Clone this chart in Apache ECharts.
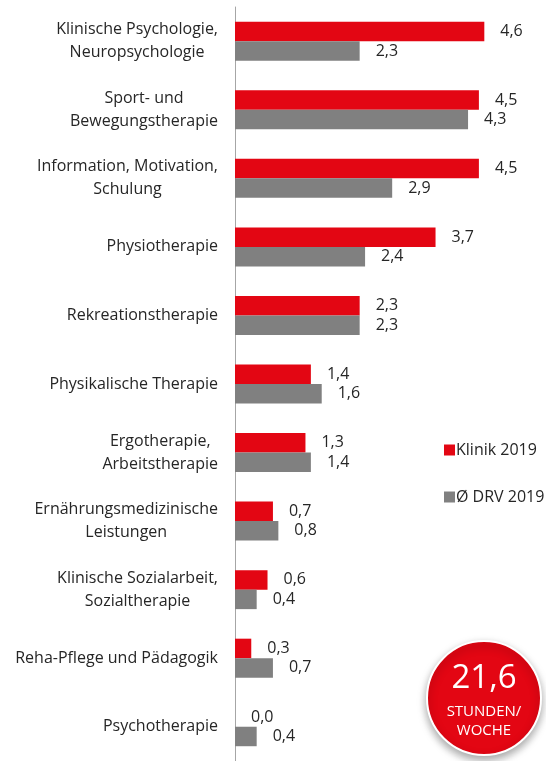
<!DOCTYPE html>
<html>
<head>
<meta charset="utf-8">
<script src="https://cdn.jsdelivr.net/npm/echarts@6/dist/echarts.min.js"></script>
<style>
  html, body { margin: 0; padding: 0; background: #fff; }
  #main { width: 546px; height: 761px; }
</style>
</head>
<body>
<div id="main"></div>
<script>
// Kategorien (von oben nach unten)
var categories = [
  'Klinische Psychologie,\nNeuropsychologie',
  'Sport- und\nBewegungstherapie',
  'Information, Motivation,\nSchulung',
  'Physiotherapie',
  'Rekreationstherapie',
  'Physikalische Therapie',
  'Ergotherapie,\nArbeitstherapie',
  'Ernährungsmedizinische\nLeistungen',
  'Klinische Sozialarbeit,\nSozialtherapie',
  'Reha-Pflege und Pädagogik',
  'Psychotherapie'
]
var klinik2019 = [4.6, 4.5, 4.5, 3.7, 2.3, 1.4, 1.3, 0.7, 0.6, 0.3, 0.0]
var drv2019 = [2.3, 4.3, 2.9, 2.4, 2.3, 1.6, 1.4, 0.8, 0.4, 0.7, 0.4]
var seriesNames = ['Klinik 2019', 'Ø DRV 2019']
var totalHours = '21,6'

var FONT = '"Open Sans"'
var dom = document.getElementById('main')
var myChart = echarts.init(dom)

function fmt (p) {
  return p.value.toFixed(1).replace('.', ',')
}

var option = {
  animation: false,
  textStyle: { fontFamily: FONT },
  grid: { left: 235, right: 40, top: 7, bottom: 0 },
  legend: {
    orient: 'vertical',
    left: 439,
    top: 437,
    itemWidth: 11,
    itemHeight: 11,
    itemGap: 31,
    icon: 'rect',
    textStyle: { fontFamily: FONT, fontSize: 16, color: '#262626', padding: [0, 0, 0, -4] },
    data: seriesNames
  },
  xAxis: {
    type: 'value',
    min: 0,
    max: 5,
    show: false
  },
  yAxis: {
    type: 'category',
    inverse: true,
    data: categories,
    axisLine: { lineStyle: { color: '#a6a6a6', width: 1 } },
    axisTick: { length: 5, lineStyle: { color: '#a6a6a6' } },
    axisLabel: {
      margin: 17,
      color: '#262626',
      fontSize: 16,
      lineHeight: 23,
      formatter: function (v) {
        return v.split('\n').map(function (l) { return '{c|' + l + '}' }).join('\n')
      },
      rich: {
        c: { align: 'center', fontFamily: FONT, fontSize: 16, lineHeight: 23, color: '#262626' }
      }
    },
    splitLine: { show: false }
  },
  series: [
    {
      name: seriesNames[0],
      type: 'bar',
      data: klinik2019,
      barWidth: 19.5,
      barGap: '0%',
      itemStyle: { color: '#e30613' },
      label: { show: true, position: 'right', distance: 16, fontSize: 16, color: '#262626', formatter: fmt }
    },
    {
      name: seriesNames[1],
      type: 'bar',
      data: drv2019,
      barWidth: 19.5,
      barGap: '0%',
      itemStyle: { color: '#808080' },
      label: { show: true, position: 'right', distance: 16, fontSize: 16, color: '#262626', formatter: fmt }
    }
  ],
  graphic: [
    {
      type: 'circle',
      shape: { cx: 484, cy: 698, r: 57 },
      style: {
        fill: '#e30613',
        stroke: '#ffffff',
        lineWidth: 2,
        shadowBlur: 8,
        shadowOffsetY: 4,
        shadowColor: 'rgba(0,0,0,0.35)'
      },
      z: 10
    },
    {
      type: 'text',
      x: 484,
      y: 679,
      style: { text: totalHours, fill: '#fff', font: '33px "Open Sans"', textAlign: 'center', textVerticalAlign: 'middle' },
      z: 11
    },
    {
      type: 'text',
      x: 484,
      y: 712,
      style: { text: 'STUNDEN/', fill: '#fff', font: '15px "Open Sans"', textAlign: 'center', textVerticalAlign: 'middle' },
      z: 11
    },
    {
      type: 'text',
      x: 484,
      y: 731,
      style: { text: 'WOCHE', fill: '#fff', font: '15px "Open Sans"', textAlign: 'center', textVerticalAlign: 'middle' },
      z: 11
    }
  ]
}
myChart.setOption(option)
</script>
</body>
</html>
